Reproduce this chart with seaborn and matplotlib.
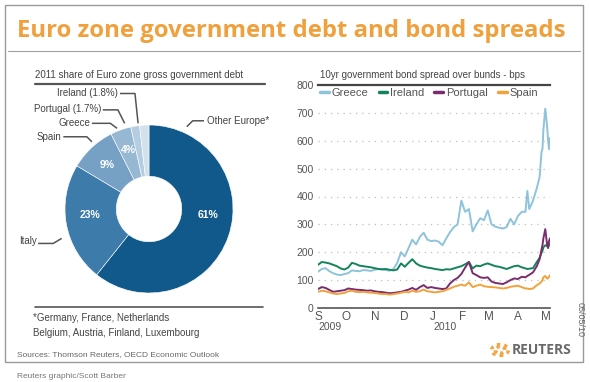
import seaborn as sns
import matplotlib.pyplot as plt
from matplotlib.patches import Rectangle, Circle
from matplotlib.lines import Line2D
import pandas as pd

# --- donut data: 2011 share of euro zone gross government debt ---
debt_labels = ['Other Europe*', 'Italy', 'Spain', 'Greece', 'Portugal (1.7%)', 'Ireland (1.8%)']
debt_share = [61, 23, 9, 4, 1.7, 1.8]
debt_colors = ['#11598a', '#3d7bab', '#76a1c4', '#97b8d2', '#b4cde0', '#d2e1ec']
pct_text = ['61%', '23%', '9%', '4%']

# --- 10yr spread over bunds, bps ---
dates = ['2009-09-01', '2009-09-05', '2009-09-09', '2009-09-13', '2009-09-17', '2009-09-21',
         '2009-09-25', '2009-09-29', '2009-10-03', '2009-10-07', '2009-10-11', '2009-10-15',
         '2009-10-19', '2009-10-23', '2009-10-27', '2009-10-31', '2009-11-04', '2009-11-08',
         '2009-11-12', '2009-11-16', '2009-11-20', '2009-11-24', '2009-11-28', '2009-12-02',
         '2009-12-06', '2009-12-10', '2009-12-14', '2009-12-18', '2009-12-22', '2009-12-26',
         '2009-12-30', '2010-01-03', '2010-01-07', '2010-01-11', '2010-01-15', '2010-01-19',
         '2010-01-23', '2010-01-27', '2010-01-31', '2010-02-04', '2010-02-08', '2010-02-12',
         '2010-02-16', '2010-02-20', '2010-02-24', '2010-02-28', '2010-03-04', '2010-03-08',
         '2010-03-12', '2010-03-16', '2010-03-20', '2010-03-24', '2010-03-28', '2010-04-01',
         '2010-04-05', '2010-04-09', '2010-04-11', '2010-04-13', '2010-04-17', '2010-04-21',
         '2010-04-24', '2010-04-26', '2010-04-27', '2010-04-28', '2010-04-30', '2010-05-02',
         '2010-05-03', '2010-05-04', '2010-05-05']

greece = [130, 140, 143, 132, 125, 120, 118, 122, 125, 135, 133, 132,
          136, 135, 133, 137, 140, 138, 136, 134, 140, 162, 200, 185,
          215, 245, 228, 255, 270, 245, 240, 242, 238, 225, 250, 272,
          290, 300, 385, 345, 355, 275, 300, 322, 315, 350, 300, 292,
          288, 285, 290, 320, 300, 330, 345, 345, 420, 355, 385, 430,
          470, 560, 570, 640, 715, 650, 600, 570, 610]
ireland = [155, 165, 163, 160, 155, 150, 142, 138, 145, 162, 158, 152,
           150, 148, 146, 143, 140, 139, 140, 137, 135, 138, 160, 148,
           162, 175, 160, 152, 148, 145, 143, 140, 138, 136, 139, 138,
           142, 146, 150, 157, 165, 142, 152, 150, 156, 160, 155, 150,
           148, 144, 140, 145, 150, 152, 146, 142, 140, 141, 143, 165,
           180, 198, 205, 218, 225, 222, 220, 225, 230]
portugal = [68, 75, 72, 65, 58, 60, 62, 64, 70, 68, 66, 65,
            64, 62, 63, 60, 58, 57, 55, 53, 54, 56, 58, 62,
            66, 72, 65, 75, 82, 72, 75, 72, 70, 68, 70, 88,
            100, 108, 122, 145, 165, 125, 118, 110, 108, 110, 95, 90,
            88, 86, 92, 100, 106, 104, 112, 110, 115, 119, 128, 150,
            175, 210, 225, 250, 283, 225, 215, 240, 250]
spain = [58, 62, 60, 56, 52, 50, 52, 54, 60, 62, 58, 57,
         58, 56, 55, 54, 52, 50, 50, 48, 50, 52, 55, 58,
         56, 62, 58, 60, 66, 60, 58, 56, 58, 60, 65, 70,
         76, 80, 84, 80, 92, 75, 80, 84, 78, 76, 75, 74,
         72, 70, 72, 76, 78, 80, 75, 70, 70, 68, 70, 82,
         88, 95, 100, 110, 115, 105, 108, 112, 118]

countries = ['Greece', 'Ireland', 'Portugal', 'Spain']
line_colors = {'Greece': '#8ec3dc', 'Ireland': '#13845a', 'Portugal': '#7b2c6e', 'Spain': '#f2a23c'}
month_ticks = ['2009-09-01', '2009-10-01', '2009-11-01', '2009-12-01', '2010-01-01',
               '2010-02-01', '2010-03-01', '2010-04-01', '2010-05-01']
month_labels = ['S', 'O', 'N', 'D', 'J', 'F', 'M', 'A', 'M']
y_ticks = [0, 100, 200, 300, 400, 500, 600, 700, 800]

spreads = pd.DataFrame({'date': pd.to_datetime(dates), 'Greece': greece, 'Ireland': ireland,
                        'Portugal': portugal, 'Spain': spain})
spreads = spreads.melt(id_vars='date', var_name='country', value_name='bps')

sns.set_style('white')
plt.rcParams['font.family'] = ['Liberation Sans', 'DejaVu Sans']

W, H = 590, 382
fig = plt.figure(figsize=(5.9, 3.82), dpi=100)
fig.patch.set_facecolor('white')

def fx(px):
    return px / W

def fy(py):
    return 1 - py / H

grey = '#555555'

# frame, title and rule
fig.add_artist(Rectangle((fx(5), fy(362)), fx(578), 357 / H, transform=fig.transFigure,
                         fill=False, edgecolor='#9a9a9a', lw=1))
fig.text(fx(17), fy(31), 'Euro zone government debt and bond spreads', color='#f0a03c',
         fontsize=17.2, fontweight='bold', family=['Open Sans', 'DejaVu Sans'], va='center')
fig.add_artist(Line2D([fx(8), fx(580)], [fy(51), fy(51)], transform=fig.transFigure,
                      color='#a0a0a0', lw=0.8))

# ---- left panel: donut ----
fig.text(fx(35), fy(75), '2011 share of Euro zone gross government debt', fontsize=7,
         color='#444444', va='center')
fig.add_artist(Line2D([fx(35), fx(265)], [fy(84), fy(84)], transform=fig.transFigure,
                      color='#555555', lw=1.6))

ax_pie = fig.add_axes([fx(65), fy(293), 168 / W, 168 / H])
ax_pie.pie(debt_share, colors=debt_colors, startangle=90, counterclock=False, radius=1,
           wedgeprops=dict(width=0.61, edgecolor='white', linewidth=0.4))
ax_pie.set_xlim(-1, 1)
ax_pie.set_ylim(-1, 1)
ax_pie.axis('off')

for txt, (x, y) in zip(pct_text, [(0.70, -0.07), (-0.70, -0.07), (-0.50, 0.52), (-0.25, 0.70)]):
    ax_pie.text(x, y, txt, color='white', fontsize=7.5, fontweight='bold', ha='center', va='center')

label_pos = {
    'Other Europe*': ((0.69, 1.05), [(0.655, 1.05), (0.52, 1.05), (0.45, 0.98)], 'left'),
    'Italy': ((-1.33, -0.38), [(-1.32, -0.41), (-1.14, -0.41), (-1.04, -0.35)], 'right'),
    'Spain': ((-1.04, 0.86), [(-1.02, 0.86), (-0.74, 0.86), (-0.68, 0.80)], 'right'),
    'Greece': ((-0.70, 1.02), [(-0.68, 1.02), (-0.46, 1.02), (-0.38, 0.96)], 'right'),
    'Portugal (1.7%)': ((-0.57, 1.19), [(-0.55, 1.18), (-0.37, 1.18), (-0.29, 1.02)], 'right'),
    'Ireland (1.8%)': ((-0.37, 1.38), [(-0.345, 1.375), (-0.167, 1.375), (-0.13, 1.02)], 'right'),
}
for lab in debt_labels:
    (tx, ty), pts, ha = label_pos[lab]
    ax_pie.text(tx, ty, lab, fontsize=7, color='#444444', ha=ha, va='center', clip_on=False)
    ax_pie.plot([p[0] for p in pts], [p[1] for p in pts], color='#555555', lw=1.1,
                clip_on=False, solid_capstyle='butt')

fig.add_artist(Line2D([fx(35), fx(263)], [fy(307), fy(307)], transform=fig.transFigure,
                      color='#555555', lw=1.2))
fig.text(fx(33), fy(318), '*Germany, France, Netherlands', fontsize=7, color='#444444', va='center')
fig.text(fx(33), fy(333), 'Belgium, Austria, Finland, Luxembourg', fontsize=7, color='#444444',
         va='center')

# ---- right panel: spreads ----
fig.text(fx(320), fy(75), '10yr government bond spread over bunds - bps', fontsize=7,
         color='#444444', va='center')
ax = fig.add_axes([fx(318), fy(308), 232 / W, 223 / H])
sns.lineplot(data=spreads, x='date', y='bps', hue='country', hue_order=countries,
             palette=line_colors, linewidth=1.4, ax=ax)
ax.set_xlim(pd.Timestamp('2009-09-01'), pd.Timestamp('2010-05-05'))
ax.set_ylim(0, 800)
ax.set_yticks(y_ticks)
ax.set_yticklabels([str(t) for t in y_ticks])
ax.set_xticks(pd.to_datetime(month_ticks))
ax.set_xticklabels(month_labels)
ax.set_xlabel('')
ax.set_ylabel('')
for t in y_ticks[1:-1]:
    ax.axhline(t, color='#bdbdbd', lw=0.9, ls=(0, (1, 4)), zorder=0)
for s in ['left', 'right']:
    ax.spines[s].set_visible(False)
ax.spines['bottom'].set_color('#555555')
ax.spines['bottom'].set_linewidth(1.2)
ax.spines['top'].set_visible(True)
ax.spines['top'].set_color('#444444')
ax.spines['top'].set_linewidth(1.6)
ax.tick_params(axis='y', length=0, pad=3, labelsize=7.5, labelcolor=grey)
ax.tick_params(axis='x', length=0, pad=2, labelsize=8.5, labelcolor=grey)
ax.text(pd.Timestamp('2009-09-01'), -0.085, '2009', transform=ax.get_xaxis_transform(),
        fontsize=7.5, color=grey, ha='left', va='center')
ax.text(pd.Timestamp('2010-01-01'), -0.085, '2010', transform=ax.get_xaxis_transform(),
        fontsize=7.5, color=grey, ha='left', va='center')
leg = ax.legend(loc='upper left', bbox_to_anchor=(-0.01, 1.005), ncol=4, frameon=False,
                fontsize=8, handlelength=0.8, handletextpad=0.25, columnspacing=0.9,
                borderaxespad=0)
for h in leg.legend_handles:
    h.set_linewidth(2.5)
for t in leg.get_texts():
    t.set_color(grey)

fig.text(fx(580), fy(320), '05/05/10', rotation=-90, fontsize=6.5, color='#666666',
         ha='center', va='center')

# footer
fig.text(fx(17), fy(355), 'Sources: Thomson Reuters, OECD Economic Outlook', fontsize=6,
         color='#666666', va='center')
for r, ls in [(8.5, (0, (1, 1.2))), (5, (0, (1, 1)))]:
    fig.add_artist(Circle((fx(500), fy(350)), r / W, transform=fig.transFigure, fill=False,
                          edgecolor='#f2a645', lw=2.4, ls=ls))
fig.text(fx(512), fy(350), 'REUTERS', fontsize=10, fontweight='bold', color='#6a6a6a',
         va='center', family=['Open Sans', 'DejaVu Sans'])
fig.text(fx(17), fy(376), 'Reuters graphic/Scott Barber', fontsize=6, color='#777777', va='center')

fig.savefig('out.png', dpi=100)
